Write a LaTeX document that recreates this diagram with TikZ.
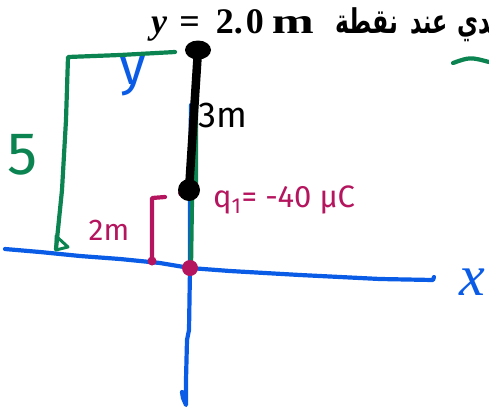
\documentclass[tikz,border=0pt]{standalone}
\usepackage{fontspec}
\setmainfont{Liberation Serif}
\newfontfamily\arabicfont[Script=Arabic]{DejaVu Sans}
\newfontfamily\handfont{Fira Sans}
\TeXXeTstate=1
\definecolor{pgreen}{HTML}{0B8451}
\definecolor{pblue}{HTML}{0A5CE6}
\definecolor{pmag}{HTML}{B5155E}
\newcommand{\arword}[2]{\resizebox{#1}{\height}{\arabicfont\bfseries\fontsize{34}{36}\selectfont\beginR #2\endR}}
\begin{document}
\begin{tikzpicture}[x=1pt,y=-1pt,
  pen/.style={line width=4.2pt,line cap=round,line join=round},
  hand/.style={inner sep=0pt,font=\handfont},
  arab/.style={anchor=base west,inner sep=0pt}]
\useasboundingbox (0,0) rectangle (489,410);
\clip (0,0) rectangle (489,410);
% header
\node[anchor=base west,inner sep=0pt,font=\fontsize{36}{38}\selectfont\bfseries] (hdr) at (151,33)
  {\textit{y}\hspace{12pt}=\hspace{16pt}2.\hspace{3pt}0\hspace{8pt}\scalebox{1.4}[1]{m}};
\node[arab] (ar1) at (335,33) {\arword{63pt}{نقطة}};
\node[arab] (ar2) at (410,33) {\arword{37pt}{عند}};
\node[arab] (ar3) at (457,33) {\arword{42pt}{ـدي}};
% blue axes
\coordinate (ytop) at (191,105);
\coordinate (o) at (190,268);
\coordinate (ybot) at (186,405);
\coordinate (xl) at (5,249);
\coordinate (xr) at (433,280);
\draw[pen,pblue] (ytop) -- (190,190) -- (o) -- (189,330) -- (187,340) -- (186,380) -- (ybot) -- (183,398) -- (182,392);
\draw[pen,pblue] (xl) -- (40,252) -- (80,256) -- (120,259) -- (160,263) -- (o) -- (230,271) -- (300,275) -- (380,279) -- (xr) -- (434,277);
\node[hand,pblue,font=\fontsize{58}{58}\selectfont\itshape] (xlab) at (472,282) {x};
\node[hand,pblue,font=\handfont\fontsize{54}{54}\selectfont] (ylab) at (133,76) {y};
% green
\coordinate (gt) at (175,52);
\coordinate (gc) at (68,57);
\coordinate (gb) at (56,249);
\draw[pen,pgreen] (gt) -- (120,55) -- (gc) -- (66,120) -- (62,190) -- (gb);
\draw[pen,pgreen,line width=3pt] (56,236) -- (56,250) -- (68,247) -- cycle;
\draw[pen,pgreen] (453,63) .. controls (470,57) .. (489,62);
\draw[pen,pgreen] (197,55) -- (196,100) -- (196,185) -- (192,200) -- (191,268);
\node[hand,pgreen,font=\handfont\fontsize{60}{60}\selectfont] (five) at (23,155) {5};
% magenta
\fill[pmag] (182,193) circle (4);
\draw[pen,pmag] (165,197) -- (152,198) -- (152,260);
\fill[pmag] (152,261) circle (4.5) node (mdot) {};
\fill[pmag] (o) circle (8);
\node[hand,pmag,font=\handfont\fontsize{30}{30}\selectfont] (two) at (109,230) {2m};
\node[hand,pmag,anchor=west,font=\handfont\fontsize{31}{31}\selectfont] (q) at (213,200) {q\textsubscript{1}= -40 μC};
% black rod
\coordinate (rt) at (198,50);
\coordinate (rb) at (189,190);
\draw[line width=8.5pt,line cap=round] (rt) -- (rb);
\fill (rt) ellipse (13 and 9.5);
\fill (rb) circle (11);
\node[hand,font=\handfont\fontsize{36}{36}\selectfont] (three) at (223,115) {3m};
\end{tikzpicture}
\end{document}
